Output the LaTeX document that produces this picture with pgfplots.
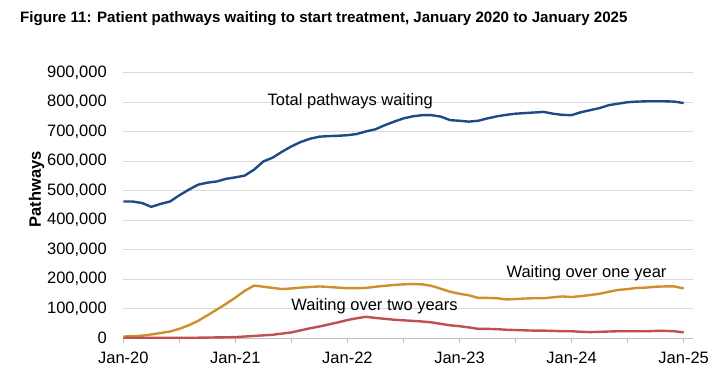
\documentclass[border=0pt]{standalone}
\usepackage{fontspec}
\setmainfont{Liberation Sans}
\usepackage{pgfplots}
\usepackage{pgfplotstable}
\pgfplotsset{compat=1.18}
\definecolor{cblue}{HTML}{1F4A86}
\definecolor{cgold}{HTML}{D08F2C}
\definecolor{cred}{HTML}{C0504D}
\definecolor{cgrid}{HTML}{D9D9D9}
\definecolor{caxis}{HTML}{BFBFBF}

\pgfplotstableread{
m total
0 463
1 463
2 458
3 445
4 455
5 463
6 484
7 503
8 520
9 527
10 531
11 540
12 545
13 551
14 571
15 599
16 612
17 632
18 650
19 665
20 676
21 683
22 685
23 686
24 688
25 692
26 701
27 708
28 722
29 734
30 745
31 752
32 756
33 756
34 751
35 739
36 737
37 734
38 737
39 745
40 752
41 757
42 761
43 763
44 765
45 767
46 761
47 757
48 756
49 766
50 773
51 780
52 790
53 795
54 800
55 802
56 803
57 803
58 803
59 802
60 797
}\totaltab

\pgfplotstableread{
m one
0 5
1 6
2 8
3 12
4 17
5 22
6 31
7 43
8 58
9 77
10 96
11 116
12 137
13 160
14 178
15 174
16 170
17 166
18 168
19 171
20 173
21 175
22 173
23 171
24 169
25 169
26 170
27 174
28 177
29 180
30 182
31 183
32 182
33 177
34 167
35 157
36 150
37 145
38 136
39 136
40 135
41 131
42 132
43 134
44 135
45 135
46 138
47 141
48 139
49 142
50 146
51 150
52 157
53 163
54 166
55 170
56 171
57 174
58 175
59 175
60 168
}\onetab

\pgfplotstableread{
m two
0 1
1 1
2 1
3 1
4 1
5 1
6 1
7 1
8 1
9 1.5
10 2
11 2.5
12 3
13 5
14 7
15 9
16 11
17 15
18 19
19 26
20 33
21 39
22 46
23 53
24 61
25 67
26 72
27 68
28 65
29 62
30 60
31 58
32 56
33 53
34 48
35 43
36 40
37 36
38 31
39 31
40 30
41 28
42 27
43 26
44 25
45 25
46 24
47 23
48 23
49 21
50 20
51 21
52 22
53 23
54 23
55 23
56 23
57 24
58 24
59 23
60 19
}\twotab

\begin{document}
\begin{tikzpicture}[x=1pt,y=1pt]
\path[use as bounding box] (0,0) rectangle (727,378);
\node[anchor=base west, inner sep=0pt, font=\bfseries\fontsize{15.1}{17}\selectfont] at (20,355.5) {Figure 11: Patient pathways waiting to start treatment, January 2020 to January 2025};
\begin{axis}[
  at={(123.3pt,40pt)}, anchor=south west,
  scale only axis, width=569.7pt, height=265.3pt,
  xmin=0, xmax=61, ymin=0, ymax=900000,
  axis x line*=bottom, axis y line*=left,
  y axis line style={draw=none},
  x axis line style={draw=caxis, line width=0.8pt},
  xtick={0,12,24,36,48,60},
  xticklabels={Jan-20,Jan-21,Jan-22,Jan-23,Jan-24,Jan-25},
  minor xtick={6,18,30,42,54},
  tick align=outside,
  major tick length=5pt, minor tick length=5pt,
  tick style={draw=caxis, line width=0.8pt},
  ytick={0,100000,...,900000},
  ytick style={draw=none},
  ymajorgrids, grid style={draw=cgrid, line width=0.9pt},
  scaled y ticks=false,
  /pgf/number format/.cd, fixed, 1000 sep={,}, assume math mode=true,
  /pgfplots/.cd,
  ticklabel style={font=\fontsize{16.5}{18}\selectfont},
  yticklabel style={xshift=-8pt},
  xticklabel style={yshift=-5pt},
  ylabel={Pathways},
  ylabel shift=-4pt,
  ylabel style={at={(ticklabel cs:0.56)}, font=\bfseries\fontsize{16.5}{18}\selectfont},
  clip=false,
]
\addplot[cblue, line width=2.4pt, line join=round] table[x=m, y expr=\thisrow{total}*1000] {\totaltab};
\addplot[cgold, line width=2.4pt, line join=round] table[x=m, y expr=\thisrow{one}*1000] {\onetab};
\addplot[cred, line width=2.4pt, line join=round] table[x=m, y expr=\thisrow{two}*1000] {\twotab};
\node[anchor=base, font=\fontsize{16.5}{18}\selectfont] at (axis cs:24.3,788000) {Total pathways waiting};
\node[anchor=base, font=\fontsize{16.5}{18}\selectfont] at (axis cs:49.6,206000) {Waiting over one year};
\node[anchor=base, font=\fontsize{16.5}{18}\selectfont] at (axis cs:26.9,92000) {Waiting over two years};
\end{axis}
\end{tikzpicture}
\end{document}
